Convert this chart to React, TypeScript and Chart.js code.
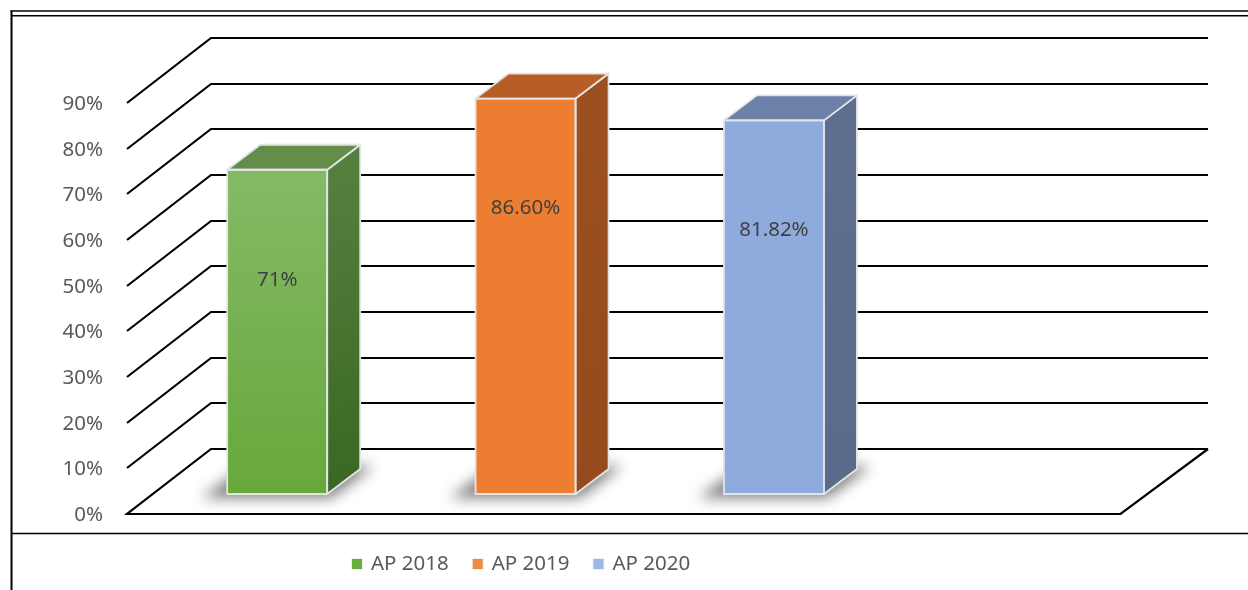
import React, { useEffect, useRef } from 'react';
import { Chart, registerables } from 'chart.js';

Chart.register(...registerables);

const SERIES = ['AP 2018', 'AP 2019', 'AP 2020'];
const CATEGORIES = ['AP 2018', 'AP 2019', 'AP 2020', ''];
const VALUES = [71, 86.6, 81.82];
const VALUE_LABELS = ['71%', '86.60%', '81.82%'];
const TICKS = [0, 10, 20, 30, 40, 50, 60, 70, 80, 90];
const TICK_LABELS = ['0%', '10%', '20%', '30%', '40%', '50%', '60%', '70%', '80%', '90%'];

const FRONT_TOP = ['#84ba66', '#ED7D31', '#8FAADC'];
const FRONT_BOTTOM = ['#67a83b', '#ED7D31', '#8FAADC'];
const TOP_FACE = ['#638d48', '#b65e25', '#6b81a9'];
const SIDE_TOP = ['#557f3f', '#9c5020', '#5d6e8f'];
const SIDE_BOTTOM = ['#3a6723', '#944a1c', '#5a6a8a'];
const LEGEND_COLORS = ['#6aae3e', '#f08a3c', '#9db6e8'];

const FONT = '"Noto Sans", "Open Sans", sans-serif';
const FONT_SIZE = 20.5;

// 3D geometry offsets (pixels) relative to the bar plane
const FRONT_DX = -26;
const FRONT_DY = 20;
const BACK_LEFT_DX = 58;
const BACK_RIGHT_DX = 61.5;
const BACK_DY = -45;
const BAR_DX = 33;
const BAR_DY = -25;

const poly = (ctx: CanvasRenderingContext2D, pts: number[][]) => {
  ctx.beginPath();
  ctx.moveTo(pts[0][0], pts[0][1]);
  for (let i = 1; i < pts.length; i++) ctx.lineTo(pts[i][0], pts[i][1]);
  ctx.closePath();
};

const excel3d = {
  id: 'excel3d',
  beforeDraw(chart: any) {
    const ctx: CanvasRenderingContext2D = chart.ctx;
    const W = chart.width;
    const H = chart.height;
    ctx.save();
    ctx.fillStyle = '#ffffff';
    ctx.fillRect(0, 0, W, H);
    ctx.strokeStyle = '#000000';
    ctx.lineWidth = 1.5;
    ctx.beginPath();
    ctx.moveTo(10.5, 11);
    ctx.lineTo(W, 11);
    ctx.moveTo(12, 15.7);
    ctx.lineTo(W, 15.7);
    ctx.moveTo(11, 533.5);
    ctx.lineTo(W, 533.5);
    ctx.stroke();
    ctx.lineWidth = 2;
    ctx.beginPath();
    ctx.moveTo(11.5, 10.5);
    ctx.lineTo(11.5, H);
    ctx.stroke();
    ctx.restore();
  },
  beforeDatasetsDraw(chart: any) {
    const ctx: CanvasRenderingContext2D = chart.ctx;
    const y = chart.scales.y;
    const { left, right } = chart.chartArea;
    ctx.save();
    ctx.strokeStyle = '#000000';
    ctx.lineWidth = 2.2;
    ctx.lineJoin = 'miter';
    TICKS.forEach((t) => {
      const py = Math.round(y.getPixelForValue(t));
      ctx.beginPath();
      if (t === TICKS[0]) {
        ctx.moveTo(right + BACK_RIGHT_DX, py + BACK_DY);
        ctx.lineTo(left + BACK_LEFT_DX, py + BACK_DY);
        ctx.lineTo(left + FRONT_DX, py + FRONT_DY);
        ctx.lineTo(right + FRONT_DX, py + FRONT_DY);
        ctx.lineTo(right + BACK_RIGHT_DX, py + BACK_DY);
      } else {
        ctx.moveTo(left + FRONT_DX, py + FRONT_DY);
        ctx.lineTo(left + BACK_LEFT_DX, py + BACK_DY);
        ctx.lineTo(right + BACK_RIGHT_DX, py + BACK_DY);
      }
      ctx.stroke();
    });
    // tick labels at the front plane
    ctx.fillStyle = '#595959';
    ctx.font = `${FONT_SIZE}px ${FONT}`;
    ctx.textAlign = 'right';
    ctx.textBaseline = 'middle';
    TICKS.forEach((t, i) => {
      const py = y.getPixelForValue(t);
      ctx.fillText(TICK_LABELS[i], 103, py + FRONT_DY + 1);
    });
    // floor shadows
    SERIES.forEach((_, i) => {
      const el = chart.getDatasetMeta(i).data[i];
      if (!el) return;
      const x0 = el.x - el.width / 2;
      const x1 = el.x + el.width / 2;
      const yb = el.base;
      ctx.save();
      ctx.filter = 'blur(7px)';
      ctx.fillStyle = 'rgba(0,0,0,0.5)';
      poly(ctx, [
        [x0 - 26, yb + 4],
        [x1 + 4, yb + 4],
        [x1 + BAR_DX + 14, yb + BAR_DY - 3],
        [x0 + BAR_DX - 14, yb + BAR_DY - 3],
      ]);
      ctx.fill();
      ctx.restore();
    });
    ctx.restore();
  },
  afterDatasetsDraw(chart: any) {
    const ctx: CanvasRenderingContext2D = chart.ctx;
    ctx.save();
    SERIES.forEach((_, i) => {
      const el = chart.getDatasetMeta(i).data[i];
      if (!el) return;
      const x0 = el.x - el.width / 2;
      const x1 = el.x + el.width / 2;
      const yt = el.y;
      const yb = el.base;
      ctx.strokeStyle = '#e4e4e4';
      ctx.lineWidth = 1.8;
      ctx.lineJoin = 'round';
      // side face
      const g = ctx.createLinearGradient(x1, yt, x1 + BAR_DX, yb);
      g.addColorStop(0, SIDE_TOP[i]);
      g.addColorStop(1, SIDE_BOTTOM[i]);
      ctx.fillStyle = g;
      poly(ctx, [
        [x1, yt],
        [x1 + BAR_DX, yt + BAR_DY],
        [x1 + BAR_DX, yb + BAR_DY],
        [x1, yb],
      ]);
      ctx.fill();
      ctx.stroke();
      // top face
      ctx.fillStyle = TOP_FACE[i];
      poly(ctx, [
        [x0, yt],
        [x1, yt],
        [x1 + BAR_DX, yt + BAR_DY],
        [x0 + BAR_DX, yt + BAR_DY],
      ]);
      ctx.fill();
      ctx.stroke();
      // front outline
      ctx.strokeRect(x0, yt, x1 - x0, yb - yt);
      // value label
      ctx.fillStyle = '#404040';
      ctx.font = `${FONT_SIZE}px ${FONT}`;
      ctx.textAlign = 'center';
      ctx.textBaseline = 'middle';
      ctx.fillText(VALUE_LABELS[i], el.x, yt + 110);
    });
    ctx.restore();
  },
  afterDraw(chart: any) {
    const ctx: CanvasRenderingContext2D = chart.ctx;
    ctx.save();
    ctx.font = `${FONT_SIZE}px ${FONT}`;
    ctx.textAlign = 'left';
    ctx.textBaseline = 'middle';
    let x = 352;
    const cy = 564;
    chart.data.datasets.forEach((ds: any, i: number) => {
      ctx.fillStyle = '#f0f0f0';
      ctx.fillRect(x - 1, cy - 6, 12, 12);
      ctx.fillStyle = LEGEND_COLORS[i];
      ctx.fillRect(x, cy - 5, 10, 10);
      ctx.fillStyle = '#595959';
      ctx.fillText(ds.label, x + 19, cy);
      x += 19 + ctx.measureText(ds.label).width + 24;
    });
    ctx.restore();
  },
};

export default function App() {
  const ref = useRef<HTMLCanvasElement | null>(null);
  useEffect(() => {
    if (!ref.current) return;
    const chart = new Chart(ref.current, {
      type: 'bar',
      data: {
        labels: CATEGORIES,
        datasets: SERIES.map((s, i) => ({
          label: s,
          data: CATEGORIES.map((_, j) => (j === i ? VALUES[i] : null)),
          backgroundColor: (c: any) => {
            const ch = c.chart;
            const ys = ch.scales && ch.scales.y;
            if (!ys || c.raw == null) return FRONT_BOTTOM[i];
            const top = ys.getPixelForValue(c.raw);
            const bot = ys.getPixelForValue(0);
            if (!Number.isFinite(top) || !Number.isFinite(bot) || top === bot) return FRONT_BOTTOM[i];
            const g = ch.ctx.createLinearGradient(0, top, 0, bot);
            g.addColorStop(0, FRONT_TOP[i]);
            g.addColorStop(1, FRONT_BOTTOM[i]);
            return g;
          },
          borderColor: '#e4e4e4',
          borderWidth: 0,
          grouped: false,
          skipNull: true,
          barPercentage: 0.4026,
          categoryPercentage: 1,
        })),
      },
      options: {
        responsive: false,
        animation: false,
        devicePixelRatio: 1,
        layout: { padding: { left: 153, right: 101.5, top: 83, bottom: 96 } },
        scales: {
          x: { display: false },
          y: { display: false, min: 0, max: 90 },
        },
        plugins: {
          legend: { display: false },
          tooltip: { enabled: false },
        },
      } as any,
      plugins: [excel3d as any],
    });
    return () => chart.destroy();
  }, []);
  return (
    <div style={{ position: 'fixed', left: 0, top: 0, width: 1248, height: 590, background: '#fff' }}>
      <canvas ref={ref} width={1248} height={590} style={{ display: 'block' }} />
    </div>
  );
}
